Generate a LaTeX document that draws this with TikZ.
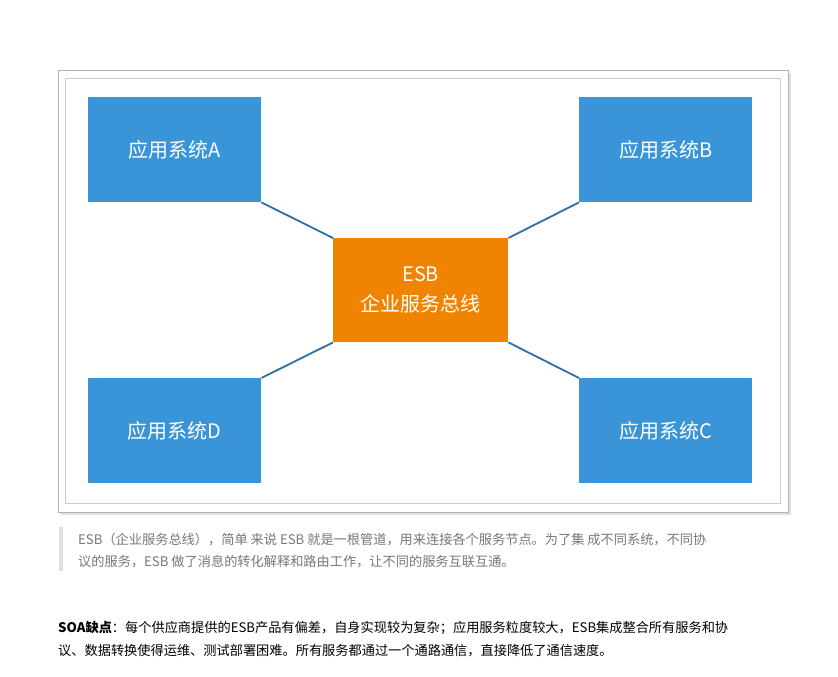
\documentclass[tikz,border=0pt]{standalone}
\usepackage{fontspec}
\setmainfont{Noto Sans CJK SC}
\begin{document}
\begin{tikzpicture}[x=1pt,y=-1pt,
 sys/.style={fill=sysblue,minimum width=173pt,minimum height=105pt,inner sep=0pt,text=white,font=\fontsize{20}{22}\selectfont},
 link/.style={draw=linkblue,line width=1.8pt}]
\definecolor{sysblue}{HTML}{3A95D8}
\definecolor{esborange}{HTML}{F08300}
\definecolor{linkblue}{HTML}{2E6FA6}
\definecolor{cap}{HTML}{777777}
\useasboundingbox (0,0) rectangle (838,677);
\fill[black!12] (61,73) rectangle (791,515);
\draw[black!30,fill=white] (58,70) rectangle (788,512);
\draw[black!20] (65,78) rectangle (780,503);
\node[sys,anchor=north west] (A) at (88,97) {应用系统A};
\node[sys,anchor=north west] (B) at (579,97) {应用系统B};
\node[sys,anchor=north west] (D) at (88,378) {应用系统D};
\node[sys,anchor=north west] (C) at (579,378) {应用系统C};
\node[sys,fill=esborange,minimum width=175pt,minimum height=104pt,anchor=north west,align=center,font=\fontsize{20}{30}\selectfont] (E) at (333,238) {ESB\\企业服务总线};
\draw[link] (A.south east) -- (E.north west);
\draw[link] (B.south west) -- (E.north east);
\draw[link] (D.north east) -- (E.south west);
\draw[link] (C.north west) -- (E.south east);
\fill[black!12] (59,527) rectangle (63,571);
\node[anchor=west,text=cap,font=\fontsize{13.2}{22}\selectfont,align=left,inner sep=0pt] (cap) at (78,551) {ESB（企业服务总线），简单 来说 ESB 就是一根管道，用来连接各个服务节点。为了集 成不同系统，不同协\\议的服务，ESB 做了消息的转化解释和路由工作，让不同的服务互联互通。};
\node[anchor=west,font=\fontsize{13.2}{23}\selectfont,align=left,inner sep=0pt] (soa) at (58,639) {\textbf{SOA缺点}：每个供应商提供的ESB产品有偏差，自身实现较为复杂；应用服务粒度较大，ESB集成整合所有服务和协\\议、数据转换使得运维、测试部署困难。所有服务都通过一个通路通信，直接降低了通信速度。};
\end{tikzpicture}
\end{document}
